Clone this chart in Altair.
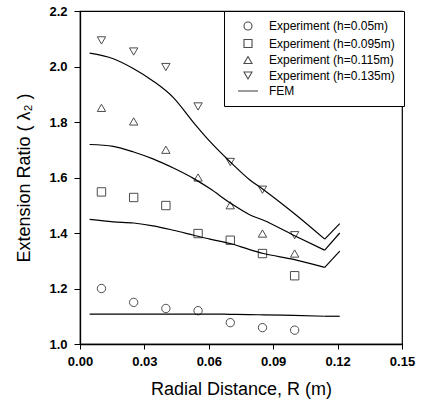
import altair as alt
import pandas as pd

# ---- data ----
exp_r = [0.01, 0.025, 0.04, 0.055, 0.07, 0.085, 0.10]
exp_h005 = [1.20, 1.15, 1.128, 1.12, 1.077, 1.059, 1.05]
exp_h0095 = [1.548, 1.528, 1.499, 1.398, 1.374, 1.326, 1.246]
exp_h0115 = [1.851, 1.802, 1.70, 1.60, 1.50, 1.398, 1.326]
exp_h0135 = [2.094, 2.054, 1.998, 1.856, 1.656, 1.556, 1.392]

fem_r = [0.0045, 0.0155, 0.025, 0.034, 0.0435, 0.053, 0.0605, 0.07, 0.079, 0.0855, 0.0995, 0.114, 0.121]
fem_h005 = [1.108, 1.108, 1.108, 1.108, 1.108, 1.108, 1.108, 1.107, 1.106, 1.105, 1.103, 1.100, 1.100]
fem_h0095 = [1.449, 1.440, 1.436, 1.426, 1.410, 1.392, 1.378, 1.362, 1.340, 1.326, 1.305, 1.276, 1.335]
fem_h0115 = [1.719, 1.712, 1.692, 1.667, 1.634, 1.596, 1.560, 1.508, 1.466, 1.446, 1.392, 1.338, 1.400]
fem_h0135 = [2.048, 2.028, 1.992, 1.948, 1.888, 1.797, 1.730, 1.656, 1.592, 1.556, 1.472, 1.378, 1.434]
fem_min_index = 11  # position of the sharp minimum near R = 0.114 m

labels = ["Experiment (h=0.05m)", "Experiment (h=0.095m)",
          "Experiment (h=0.115m)", "Experiment (h=0.135m)", "FEM"]
shapes = ["circle", "square", "triangle-up", "triangle-down", "M-2.5,0H2.5"]

x_ticks = [0.0, 0.03, 0.06, 0.09, 0.12, 0.15]
y_ticks = [1.0, 1.2, 1.4, 1.6, 1.8, 2.0, 2.2]

exp_rows = []
for lab, ys in zip(labels[:4], [exp_h005, exp_h0095, exp_h0115, exp_h0135]):
    for r, v in zip(exp_r, ys):
        exp_rows.append({"r": r, "v": v, "series": lab})
exp_df = pd.DataFrame(exp_rows)

fem_rows = []
for name, ys in zip(["h005", "h0095", "h0115", "h0135"], [fem_h005, fem_h0095, fem_h0115, fem_h0135]):
    for i, (r, v) in enumerate(zip(fem_r, ys)):
        fem_rows.append({"r": r, "v": v, "curve": name, "i": i})
fem_df = pd.DataFrame(fem_rows)
fem_smooth = fem_df[fem_df["i"] <= fem_min_index]
fem_tail = fem_df[fem_df["i"] >= fem_min_index]

FONT = "Liberation Sans"

x_enc = alt.X("r:Q", scale=alt.Scale(domain=[0, 0.15], nice=False, zero=False),
              axis=alt.Axis(values=x_ticks, format=".2f", title="Radial Distance, R (m)",
                            labelFont=FONT, labelFontSize=13, labelFontWeight="bold",
                            labelColor="black", titleFont=FONT, titleFontSize=18,
                            titleFontWeight="normal", titleColor="black", titlePadding=12,
                            tickSize=5, tickColor="black", domainColor="black",
                            domainWidth=1.3, grid=False, labelPadding=6, labelFlush=False))
y_enc = alt.Y("v:Q", scale=alt.Scale(domain=[1.0, 2.2], nice=False, zero=False),
              axis=alt.Axis(values=y_ticks, format=".1f", title="Extension Ratio ( λ₂ )",
                            labelFont=FONT, labelFontSize=13, labelFontWeight="bold",
                            labelColor="black", titleFont=FONT, titleFontSize=18,
                            titleFontWeight="normal", titleColor="black", titlePadding=15,
                            tickSize=6, tickColor="black", domainColor="black",
                            domainWidth=1.3, grid=False, labelPadding=7, labelFlush=False))

lines_smooth = alt.Chart(fem_smooth).mark_line(color="black", strokeWidth=1.2,
                                               interpolate="monotone").encode(
    x=x_enc, y=y_enc, detail="curve:N", order="i:Q")
lines_tail = alt.Chart(fem_tail).mark_line(color="black", strokeWidth=1.2).encode(
    x="r:Q", y="v:Q", detail="curve:N", order="i:Q")

points = alt.Chart(exp_df).mark_point(color="black", filled=False, strokeWidth=1, size=70).encode(
    x="r:Q", y="v:Q",
    shape=alt.Shape("series:N", scale=alt.Scale(domain=labels, range=shapes),
                    legend=alt.Legend(title=None, orient="none", legendX=144, legendY=0,
                                      strokeColor="black", fillColor="white", padding=9,
                                      symbolOffset=9, labelOffset=15, symbolSize=64,
                                      symbolStrokeColor="black", symbolStrokeWidth=1.1,
                                      symbolFillColor="transparent", labelFont=FONT,
                                      labelFontSize=12, labelColor="black", rowPadding=3.5,
                                      labelLimit=300)))

chart = alt.layer(lines_smooth, lines_tail, points).properties(
    width=322, height=333,
    padding={"left": 80, "top": 11, "right": 19, "bottom": 63},
    autosize=alt.AutoSizeParams(type="none"),
    background="white",
).configure_view(stroke="black", strokeWidth=1.2)

chart.save("out.html", embed_options={"renderer": "svg", "actions": False})
